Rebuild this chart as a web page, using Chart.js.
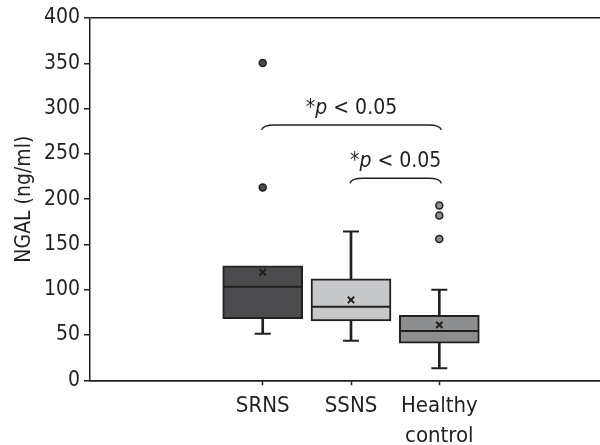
<!DOCTYPE html>
<html>
<head>
<meta charset="utf-8">
<script src="https://cdn.jsdelivr.net/npm/chart.js@4.4.1/dist/chart.umd.min.js"></script>
<style>
  html, body { margin: 0; padding: 0; background: #fff; }
  #wrap { width: 600px; height: 445px; position: relative; }
</style>
</head>
<body>
<div id="wrap"><canvas id="chart1"></canvas></div>
<script>
// box plot values (NGAL, ng/ml)
const categories = ['SRNS', 'SSNS', ['Healthy', 'control']];
const positions = [1, 2, 3];
const whiskerLow = [51.5, 43.8, 13.3];
const q1Values = [68, 65.5, 40.9];
const medianValues = [103.4, 81.3, 54.5];
const q3Values = [126.3, 112, 71.6];
const whiskerHigh = [126.3, 164.2, 100];
const meanValues = [119.3, 88.7, 61.2];
const outlierValues = [[350.3, 212.8], [], [193, 182, 156]];
const yTicks = [0, 50, 100, 150, 200, 250, 300, 350, 400];

// significance brackets: category index from/to, level on the y axis
const braceFrom = [0, 1];
const braceTo = [2, 2];
const braceLevel = [282, 223];
const braceLabel = ['*p < 0.05', '*p < 0.05'];

const FONT = "'Liberation Sans Narrow', 'DejaVu Sans Condensed', 'Liberation Sans', sans-serif";
const boxColors = ['#4b4b4d', '#c7c8ca', '#8d8e90'];
const lineColor = '#231f20';

Chart.defaults.font.family = FONT;
Chart.defaults.color = lineColor;

const bracePlugin = {
    id: 'braces',
    afterDatasetsDraw(chart) {
        const { ctx, scales: { x, y } } = chart;
        ctx.save();
        ctx.strokeStyle = lineColor;
        ctx.fillStyle = lineColor;
        ctx.lineWidth = 1.5;
        braceFrom.forEach((f, i) => {
            const x1 = x.getPixelForValue(positions[f]) - 1;
            const x2 = x.getPixelForValue(positions[braceTo[i]]) + 2;
            const yy = y.getPixelForValue(braceLevel[i]);
            ctx.beginPath();
            ctx.moveTo(x1, yy + 5);
            ctx.quadraticCurveTo(x1 + 1, yy, x1 + 13, yy);
            ctx.lineTo(x2 - 13, yy);
            ctx.quadraticCurveTo(x2 - 1, yy, x2, yy + 5);
            ctx.stroke();

            // label: "*", italic "p", rest
            const txt = braceLabel[i];
            const parts = [[txt[0], ''], [txt[1], 'italic '], [txt.slice(2), '']];
            let total = 0;
            parts.forEach(p => { ctx.font = p[1] + '21px ' + FONT; total += ctx.measureText(p[0]).width; });
            let cx = (x1 + x2) / 2 - total / 2;
            ctx.textBaseline = 'alphabetic';
            ctx.textAlign = 'left';
            parts.forEach(p => {
                ctx.font = p[1] + '21px ' + FONT;
                ctx.fillText(p[0], cx, yy - 11);
                cx += ctx.measureText(p[0]).width;
            });
        });
        ctx.restore();
    }
};

const stems = [];
positions.forEach((p, i) => {
    if (whiskerLow[i] < q1Values[i]) stems.push({ x: p, y: [whiskerLow[i], q1Values[i]] });
    if (whiskerHigh[i] > q3Values[i]) stems.push({ x: p, y: [q3Values[i], whiskerHigh[i]] });
});
const caps = [];
positions.forEach((p, i) => {
    if (whiskerLow[i] < q1Values[i]) caps.push({ x: p, y: whiskerLow[i] });
    if (whiskerHigh[i] > q3Values[i]) caps.push({ x: p, y: whiskerHigh[i] });
});
const outlierPoints = [];
const outlierColors = [];
outlierValues.forEach((arr, i) => arr.forEach(v => {
    outlierPoints.push({ x: positions[i], y: v });
    outlierColors.push(boxColors[i]);
}));

const ctx = document.getElementById('chart1');
const chart = new Chart(ctx, {
    type: 'bar',
    data: {
        datasets: [
            {
                label: 'box',
                data: positions.map((p, i) => ({ x: p, y: [q1Values[i], q3Values[i]] })),
                backgroundColor: boxColors,
                borderColor: lineColor,
                borderWidth: 2,
                borderSkipped: false,
                barThickness: 80,
                grouped: false,
                order: 5
            },
            {
                label: 'whisker',
                data: stems,
                backgroundColor: lineColor,
                borderWidth: 0,
                barThickness: 2,
                grouped: false,
                order: 6
            },
            {
                type: 'scatter',
                label: 'caps',
                data: caps,
                pointStyle: 'line',
                pointRadius: 8,
                pointBorderWidth: 2,
                pointBorderColor: lineColor,
                order: 1
            },
            {
                type: 'scatter',
                label: 'median',
                data: positions.map((p, i) => ({ x: p, y: medianValues[i] })),
                pointStyle: 'line',
                pointRadius: 39,
                pointBorderWidth: 2,
                pointBorderColor: lineColor,
                order: 0
            },
            {
                type: 'scatter',
                label: 'mean',
                data: positions.map((p, i) => ({ x: p, y: meanValues[i] })),
                pointStyle: 'crossRot',
                pointRadius: 4.5,
                pointBorderWidth: 2,
                pointBorderColor: lineColor,
                order: 0
            },
            {
                type: 'scatter',
                label: 'outliers',
                data: outlierPoints,
                pointStyle: 'circle',
                pointRadius: 3.5,
                pointBorderWidth: 1.5,
                pointBorderColor: lineColor,
                pointBackgroundColor: outlierColors,
                order: 0
            }
        ]
    },
    options: {
        responsive: true,
        maintainAspectRatio: false,
        animation: false,
        events: [],
        layout: { autoPadding: false, padding: { top: 18, left: 0, right: 0, bottom: 0 } },
        plugins: {
            legend: { display: false },
            tooltip: { enabled: false }
        },
        scales: {
            x: {
                type: 'linear',
                offset: false,
                min: -0.956,
                max: 4.82,
                afterBuildTicks: s => { s.ticks = positions.map(v => ({ value: v })); },
                afterFit: s => { s.height = 64.7; },
                grid: { offset: false, drawOnChartArea: false, tickLength: 5, tickColor: lineColor, tickWidth: 1.5 },
                border: { color: lineColor, width: 1.5 },
                ticks: {
                    callback: (v, i) => categories[i],
                    font: { size: 22, lineHeight: 1.35 },
                    padding: 6,
                    maxRotation: 0,
                    autoSkip: false
                }
            },
            y: {
                min: 0,
                max: 400,
                afterBuildTicks: s => { s.ticks = yTicks.map(v => ({ value: v })); },
                afterFit: s => { s.width = 90; },
                grid: {
                    color: c => (c.tick && (c.tick.value === 0 || c.tick.value === 400)) ? lineColor : 'rgba(0,0,0,0)',
                    tickColor: lineColor,
                    tickLength: 6,
                    lineWidth: 1.5
                },
                border: { color: lineColor, width: 1.5 },
                ticks: { font: { size: 21 }, padding: 4 },
                title: {
                    display: true,
                    text: 'NGAL (ng/ml)',
                    font: { size: 21 },
                    padding: { top: 12, bottom: 0 }
                }
            }
        }
    },
    plugins: [bracePlugin]
});
</script>
</body>
</html>
